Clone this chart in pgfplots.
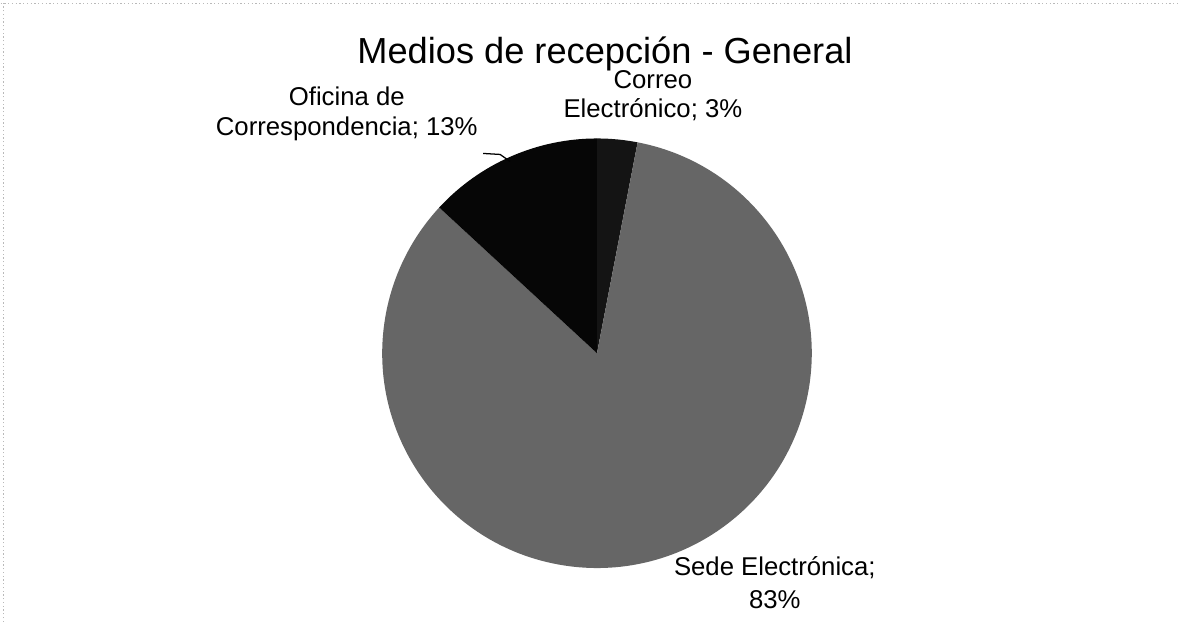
\documentclass[border=0pt]{standalone}
\usepackage{fontspec}
\setmainfont{Liberation Sans}
\usepackage{pgfplots}
\usepackage{pgfplotstable}
\pgfplotsset{compat=1.18}
\definecolor{sedegray}{HTML}{666666}
\definecolor{correoc}{HTML}{141414}
\definecolor{oficinac}{HTML}{060606}
\begin{document}
\begin{tikzpicture}
\pgfplotstableread{
slice value
Correo 3
Sede 83
Oficina 13
}\piedata
\pgfplotstablegetelem{0}{value}\of\piedata\edef\vA{\pgfplotsretval}
\pgfplotstablegetelem{1}{value}\of\piedata\edef\vB{\pgfplotsretval}
\pgfplotstablegetelem{2}{value}\of\piedata\edef\vC{\pgfplotsretval}
\pgfmathsetmacro\tot{\vA+\vB+\vC}
\pgfmathsetmacro\aA{90}
\pgfmathsetmacro\aB{\aA-(\vA/\tot)*360}
\pgfmathsetmacro\aC{\aB-(\vB/\tot)*360}
\pgfmathsetmacro\aD{\aC-(\vC/\tot)*360}
\def\cx{597}\def\cy{269}\def\r{215}
\begin{axis}[x=0.4pt,y=0.4pt,xmin=0,xmax=1179,ymin=0,ymax=622,
  hide axis,clip=false,scale only axis,enlargelimits=false]
\path (axis cs:0,0) rectangle (axis cs:1179,622);
% frame
\draw[gray!55,densely dotted,line width=0.5pt] (axis cs:0,619) -- (axis cs:1179,619);
\draw[gray!55,densely dotted,line width=0.5pt] (axis cs:3,0) -- (axis cs:3,622);
% slices
\fill[correoc] (axis cs:\cx,\cy) -- (axis cs:{\cx+\r*cos(\aA)},{\cy+\r*sin(\aA)})
  arc[start angle=\aA,end angle=\aB,radius=86pt] -- cycle;
\fill[sedegray] (axis cs:\cx,\cy) -- (axis cs:{\cx+\r*cos(\aB)},{\cy+\r*sin(\aB)})
  arc[start angle=\aB,end angle=\aC,radius=86pt] -- cycle;
\fill[oficinac] (axis cs:\cx,\cy) -- (axis cs:{\cx+\r*cos(\aC)},{\cy+\r*sin(\aC)})
  arc[start angle=\aC,end angle=\aD,radius=86pt] -- cycle;
% title
\node[anchor=base,font=\fontsize{14.5}{17}\selectfont] at (axis cs:605,559) {Medios de recepción - General};
% labels
\node[anchor=base,font=\fontsize{10.3}{12}\selectfont] at (axis cs:346.5,517) {Oficina de};
\node[anchor=base,font=\fontsize{10.3}{12}\selectfont] at (axis cs:346.5,487) {Correspondencia; 13\%};
\node[anchor=base,font=\fontsize{10.3}{12}\selectfont] at (axis cs:653,534) {Correo};
\node[anchor=base,font=\fontsize{10.3}{12}\selectfont] at (axis cs:653,505) {Electrónico; 3\%};
\node[anchor=base,font=\fontsize{10.3}{12}\selectfont] at (axis cs:775,46) {Sede Electrónica;};
\node[anchor=base,font=\fontsize{10.3}{12}\selectfont] at (axis cs:775,13) {83\%};
% leader line
\draw[black,line width=0.5pt] (axis cs:483,469) -- (axis cs:500,468) -- (axis cs:510,461);
\end{axis}
\end{tikzpicture}
\end{document}
